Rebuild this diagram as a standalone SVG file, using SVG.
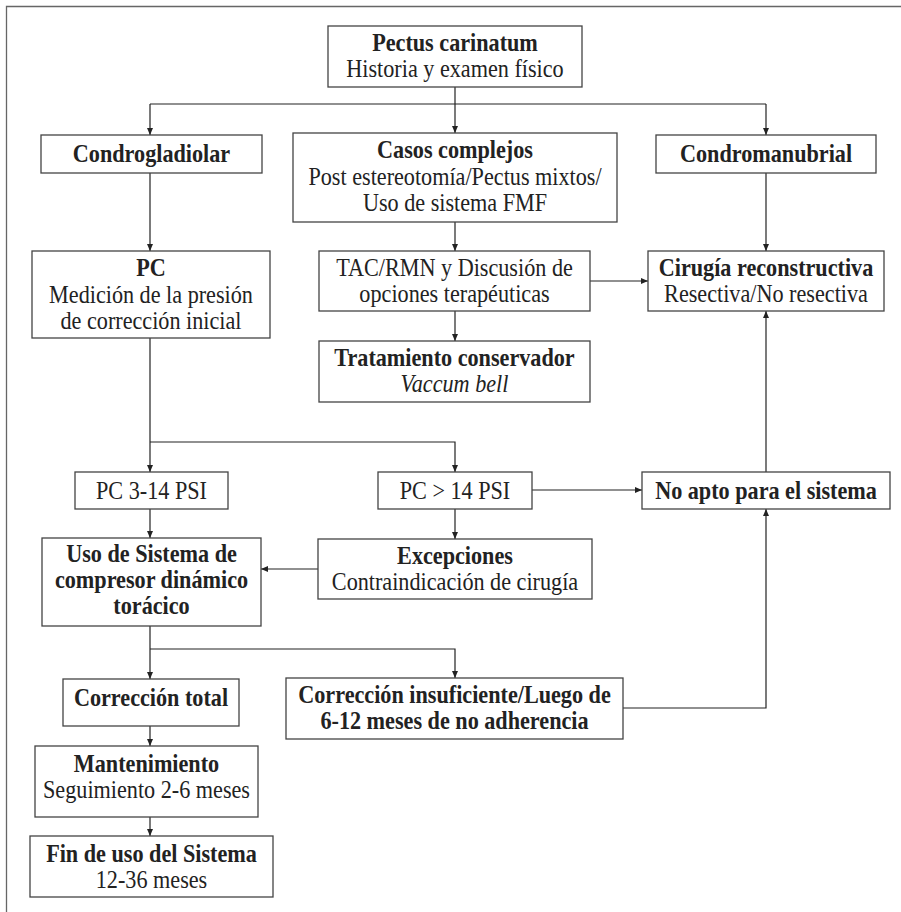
<svg xmlns="http://www.w3.org/2000/svg" width="901" height="912" viewBox="0 0 901 912">
<defs>
<marker id="ah" markerUnits="userSpaceOnUse" markerWidth="8" markerHeight="8" refX="7" refY="3.5" orient="auto">
<path d="M0,0.5 L7,3.5 L0,6.5 z" fill="#222"/>
</marker>
<style>
.box{fill:#fff;stroke:#444;stroke-width:1.3}
.t{font-family:"Liberation Serif","Times New Roman",serif;font-size:25.5px;fill:#222;text-anchor:middle}
.b{font-weight:bold}
.i{font-style:italic}
.c{fill:none;stroke:#222;stroke-width:1.2}
.a{marker-end:url(#ah)}
.frame{fill:none;stroke:#666;stroke-width:1.3}
</style>
</defs>
<rect width="901" height="912" fill="#fff"/>
<path class="frame" d="M6.5,912 V6.5 H901"/>

<g id="connectors">
<path class="c" d="M455,87 V104"/>
<path class="c" d="M150,104 H766"/>
<path class="c a" d="M150,104 V135"/>
<path class="c a" d="M455,104 V133"/>
<path class="c a" d="M766,104 V135"/>
<path class="c a" d="M150,173 V251"/>
<path class="c a" d="M455,222 V251"/>
<path class="c a" d="M455,311 V341"/>
<path class="c a" d="M590,281 H648"/>
<path class="c a" d="M766,173 V251"/>
<path class="c a" d="M150,338 V472"/>
<path class="c a" d="M150,442 H455 V472"/>
<path class="c a" d="M150,509 V538"/>
<path class="c a" d="M455,509 V539"/>
<path class="c a" d="M532,490 H642"/>
<path class="c a" d="M766,472 V311"/>
<path class="c a" d="M318,569 H261"/>
<path class="c a" d="M150,626 V679"/>
<path class="c a" d="M150,649 H455 V678"/>
<path class="c a" d="M150,726 V746"/>
<path class="c a" d="M150,817 V836"/>
<path class="c a" d="M623,708 H766 V509"/>
</g>

<g id="pectus">
<rect class="box" x="328" y="26" width="254" height="61"/>
<text class="t b" transform="translate(455 51) scale(0.87 1)">Pectus carinatum</text>
<text class="t" transform="translate(455 77) scale(0.87 1)">Historia y examen físico</text>
</g>
<g id="condrogladiolar">
<rect class="box" x="41" y="135" width="221" height="38"/>
<text class="t b" transform="translate(151.5 162) scale(0.87 1)">Condrogladiolar</text>
</g>
<g id="casos">
<rect class="box" x="293" y="133" width="324" height="89"/>
<text class="t b" transform="translate(455 158) scale(0.87 1)">Casos complejos</text>
<text class="t" transform="translate(455 185) scale(0.87 1)">Post estereotomía/Pectus mixtos/</text>
<text class="t" transform="translate(455 211) scale(0.87 1)">Uso de sistema FMF</text>
</g>
<g id="condromanubrial">
<rect class="box" x="656" y="135" width="220" height="38"/>
<text class="t b" transform="translate(766 162) scale(0.87 1)">Condromanubrial</text>
</g>
<g id="pc">
<rect class="box" x="32" y="251" width="238" height="87"/>
<text class="t b" transform="translate(151 276) scale(0.87 1)">PC</text>
<text class="t" transform="translate(151 303) scale(0.87 1)">Medición de la presión</text>
<text class="t" transform="translate(151 329) scale(0.87 1)">de corrección inicial</text>
</g>
<g id="tac">
<rect class="box" x="319" y="251" width="271" height="60"/>
<text class="t" transform="translate(454.5 276) scale(0.87 1)">TAC/RMN y Discusión de</text>
<text class="t" transform="translate(454.5 302) scale(0.87 1)">opciones terapéuticas</text>
</g>
<g id="tratamiento">
<rect class="box" x="319" y="341" width="271" height="61"/>
<text class="t b" transform="translate(454.5 366) scale(0.87 1)">Tratamiento conservador</text>
<text class="t i" transform="translate(454.5 392) scale(0.87 1)">Vaccum bell</text>
</g>
<g id="cirugia">
<rect class="box" x="648" y="251" width="236" height="60"/>
<text class="t b" transform="translate(766 276) scale(0.87 1)">Cirugía reconstructiva</text>
<text class="t" transform="translate(766 302) scale(0.87 1)">Resectiva/No resectiva</text>
</g>
<g id="pc314">
<rect class="box" x="75" y="472" width="153" height="37"/>
<text class="t" transform="translate(151.5 499) scale(0.87 1)">PC 3-14 PSI</text>
</g>
<g id="pc14">
<rect class="box" x="378" y="472" width="154" height="37"/>
<text class="t" transform="translate(455 499) scale(0.87 1)">PC &gt; 14 PSI</text>
</g>
<g id="noapto">
<rect class="box" x="642" y="472" width="248" height="37"/>
<text class="t b" transform="translate(766 499) scale(0.87 1)">No apto para el sistema</text>
</g>
<g id="uso">
<rect class="box" x="42" y="538" width="219" height="88"/>
<text class="t b" transform="translate(151.5 562) scale(0.87 1)">Uso de Sistema de</text>
<text class="t b" transform="translate(151.5 588) scale(0.87 1)">compresor dinámico</text>
<text class="t b" transform="translate(151.5 614) scale(0.87 1)">torácico</text>
</g>
<g id="excepciones">
<rect class="box" x="318" y="539" width="274" height="60"/>
<text class="t b" transform="translate(455 564) scale(0.87 1)">Excepciones</text>
<text class="t" transform="translate(455 590) scale(0.87 1)">Contraindicación de cirugía</text>
</g>
<g id="correccion-total">
<rect class="box" x="63" y="679" width="176" height="47"/>
<text class="t b" transform="translate(151 706) scale(0.87 1)">Corrección total</text>
</g>
<g id="correccion-insuficiente">
<rect class="box" x="286" y="678" width="337" height="61"/>
<text class="t b" transform="translate(454.5 703) scale(0.87 1)">Corrección insuficiente/Luego de</text>
<text class="t b" transform="translate(454.5 729) scale(0.87 1)">6-12 meses de no adherencia</text>
</g>
<g id="mantenimiento">
<rect class="box" x="35" y="746" width="223" height="71"/>
<text class="t b" transform="translate(146.5 772) scale(0.87 1)">Mantenimiento</text>
<text class="t" transform="translate(146.5 798) scale(0.87 1)">Seguimiento 2-6 meses</text>
</g>
<g id="fin">
<rect class="box" x="30" y="836" width="243" height="61"/>
<text class="t b" transform="translate(151.5 862) scale(0.87 1)">Fin de uso del Sistema</text>
<text class="t" transform="translate(151.5 888) scale(0.87 1)">12-36 meses</text>
</g>
</svg>
